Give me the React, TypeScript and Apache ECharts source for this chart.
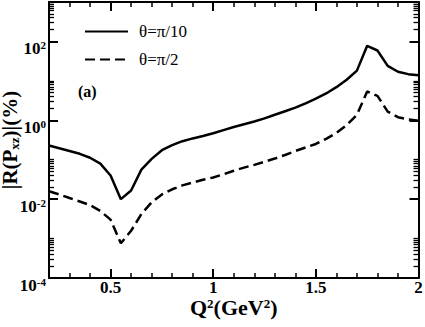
import React, { useEffect, useRef } from "react";
import * as echarts from "echarts";

const xValues = [
  0.2, 0.25, 0.3, 0.35, 0.4, 0.45, 0.5, 0.55, 0.6, 0.65, 0.7, 0.75, 0.8, 0.85,
  0.9, 0.95, 1.0, 1.05, 1.1, 1.15, 1.2, 1.25, 1.3, 1.35, 1.4, 1.45, 1.5, 1.55,
  1.6, 1.65, 1.7, 1.75, 1.8, 1.85, 1.9, 1.95, 2.0,
];
// theta = pi/10 (solid)
const solidValues = [
  0.229, 0.195, 0.166, 0.141, 0.112, 0.0794, 0.0398, 0.01, 0.0166, 0.0562,
  0.105, 0.174, 0.234, 0.295, 0.347, 0.398, 0.468, 0.562, 0.676, 0.794, 0.933,
  1.12, 1.38, 1.7, 2.09, 2.69, 3.55, 4.79, 6.92, 10.7, 18.2, 77.6, 58.9, 24.0,
  17.0, 14.8, 13.8,
];
// theta = pi/2 (dashed)
const dashedValues = [
  0.0158, 0.0132, 0.0107, 0.00871, 0.00708, 0.00501, 0.00302, 0.000759,
  0.00158, 0.00417, 0.00832, 0.0132, 0.0178, 0.0224, 0.0263, 0.0309, 0.0355,
  0.0427, 0.0525, 0.0631, 0.0741, 0.0891, 0.107, 0.132, 0.166, 0.204, 0.251,
  0.339, 0.479, 0.759, 1.38, 5.37, 4.17, 1.66, 1.2, 1.05, 0.977,
];
const seriesNames = ["θ=π/10", "θ=π/2"];
const xMajorTicks = [0.5, 1, 1.5, 2];
const xMinorTicks = [0.3, 0.4, 0.6, 0.7, 0.8, 0.9, 1.1, 1.2, 1.3, 1.4, 1.6, 1.7, 1.8, 1.9];
const yMajorExponents = [-4, -2, 0, 2];
const yMinorMultipliers = [2, 3, 4, 5, 6, 7, 8, 9, 10];

const FONT = "'Liberation Serif', 'DejaVu Serif', serif";

export default function App() {
  const ref = useRef<HTMLDivElement>(null);
  useEffect(() => {
    const chart = echarts.init(ref.current!, null, { renderer: "svg" });
    const yMinorPositions = yMajorExponents.flatMap((e) =>
      yMinorMultipliers.map((k) => e + Math.log10(k))
    );
    const black = "#000";
    const tickAxisX = (position: string, values: number[], len: number, w: number, showLine: boolean, labels: boolean, name?: boolean) => ({
      type: "value",
      position,
      min: 0.2,
      max: 2,
      splitLine: { show: false },
      axisLine: { show: showLine, onZero: false, lineStyle: { color: black, width: 2 } },
      axisTick: { show: true, inside: true, length: len, customValues: values, lineStyle: { color: black, width: w } },
      axisLabel: labels
        ? {
            show: true,
            customValues: values,
            margin: 1,
            color: black,
            fontFamily: FONT,
            fontWeight: "bold",
            fontSize: 17,
            lineHeight: 17,
            formatter: (v: number) => String(v),
          }
        : { show: false },
      ...(name
        ? {
            name: "Q{s|2}(GeV{s|2})",
            nameLocation: "middle",
            nameGap: 19,
            nameMoveOverlap: false,
            nameTextStyle: {
              color: black,
              fontFamily: FONT,
              fontWeight: "bold",
              fontSize: 22,
              lineHeight: 20,
              rich: {
                s: { fontFamily: FONT, fontWeight: "bold", fontSize: 13, lineHeight: 20, verticalAlign: "top" },
              },
            },
          }
        : {}),
    });
    const tickAxisY = (position: string, values: number[], len: number, w: number, showLine: boolean, labels: boolean, name?: boolean) => ({
      type: "value",
      position,
      min: -4,
      max: 3,
      splitLine: { show: false },
      axisLine: { show: showLine, onZero: false, lineStyle: { color: black, width: 2 } },
      axisTick: { show: true, inside: true, length: len, customValues: values, lineStyle: { color: black, width: w } },
      axisLabel: labels
        ? {
            show: true,
            customValues: values,
            margin: 3,
            padding: [14, 0, 0, 0],
            formatter: (v: number) => `{b|10}{s|${v}}`,
            rich: {
              b: { fontFamily: FONT, fontWeight: "bold", fontSize: 17, lineHeight: 18, color: black },
              s: { fontFamily: FONT, fontWeight: "bold", fontSize: 11, lineHeight: 12, color: black, verticalAlign: "top" },
            },
          }
        : { show: false },
      ...(name
        ? {
            name: "|R(P{sub|xz})|(%)",
            nameLocation: "middle",
            nameRotate: 90,
            nameGap: 28,
            nameMoveOverlap: false,
            nameTextStyle: {
              color: black,
              fontFamily: FONT,
              fontWeight: "bold",
              fontSize: 21,
              lineHeight: 22,
              rich: {
                sub: { fontFamily: FONT, fontWeight: "bold", fontSize: 13, lineHeight: 22, verticalAlign: "bottom" },
              },
            },
          }
        : {}),
    });

    chart.setOption({
      animation: false,
      backgroundColor: "#fff",
      grid: { left: 49, right: 6.5, top: 2, bottom: 49, containLabel: false, outerBoundsMode: "none" },
      legend: {
        left: 79,
        top: 18,
        orient: "vertical",
        itemWidth: 43,
        itemHeight: 14,
        itemGap: 11,
        data: seriesNames,
        itemStyle: { opacity: 0 },
        textStyle: { color: black, fontFamily: FONT, fontSize: 17, padding: [0, 0, 0, 6] },
      },
      graphic: [
        {
          type: "text",
          left: 78,
          top: 83,
          style: { text: "(a)", fontFamily: FONT, fontWeight: "bold", fontSize: 16, fill: black },
        },
      ],
      xAxis: [
        { ...tickAxisX("bottom", xMajorTicks, 9, 2, true, true, true) },
        { ...tickAxisX("bottom", xMinorTicks, 5, 1.5, false, false) },
        { ...tickAxisX("top", xMajorTicks, 9, 2, true, false) },
        { ...tickAxisX("top", xMinorTicks, 5, 1.5, false, false) },
      ],
      yAxis: [
        { type: "log", logBase: 10, min: 1e-4, max: 1e3, show: false, splitLine: { show: false } },
        { ...tickAxisY("left", yMajorExponents, 9, 2, true, true, true) },
        { ...tickAxisY("left", yMinorPositions, 5, 1.3, false, false) },
        { ...tickAxisY("right", yMajorExponents, 9, 2, true, false) },
        { ...tickAxisY("right", yMinorPositions, 5, 1.3, false, false) },
      ],
      series: [
        {
          name: seriesNames[0],
          type: "line",
          xAxisIndex: 0,
          yAxisIndex: 0,
          data: xValues.map((x, i) => [x, solidValues[i]]),
          symbol: "none",
          showSymbol: false,
          itemStyle: { color: black },
          lineStyle: { color: black, width: 2.5, type: "solid" },
        },
        {
          name: seriesNames[1],
          type: "line",
          xAxisIndex: 0,
          yAxisIndex: 0,
          data: xValues.map((x, i) => [x, dashedValues[i]]),
          symbol: "none",
          showSymbol: false,
          itemStyle: { color: black },
          lineStyle: { color: black, width: 2.5, type: [10, 5] },
        },
      ],
    });
    return () => chart.dispose();
  }, []);
  return <div ref={ref} style={{ position: "fixed", left: 0, top: 0, width: 425, height: 327 }} />;
}
